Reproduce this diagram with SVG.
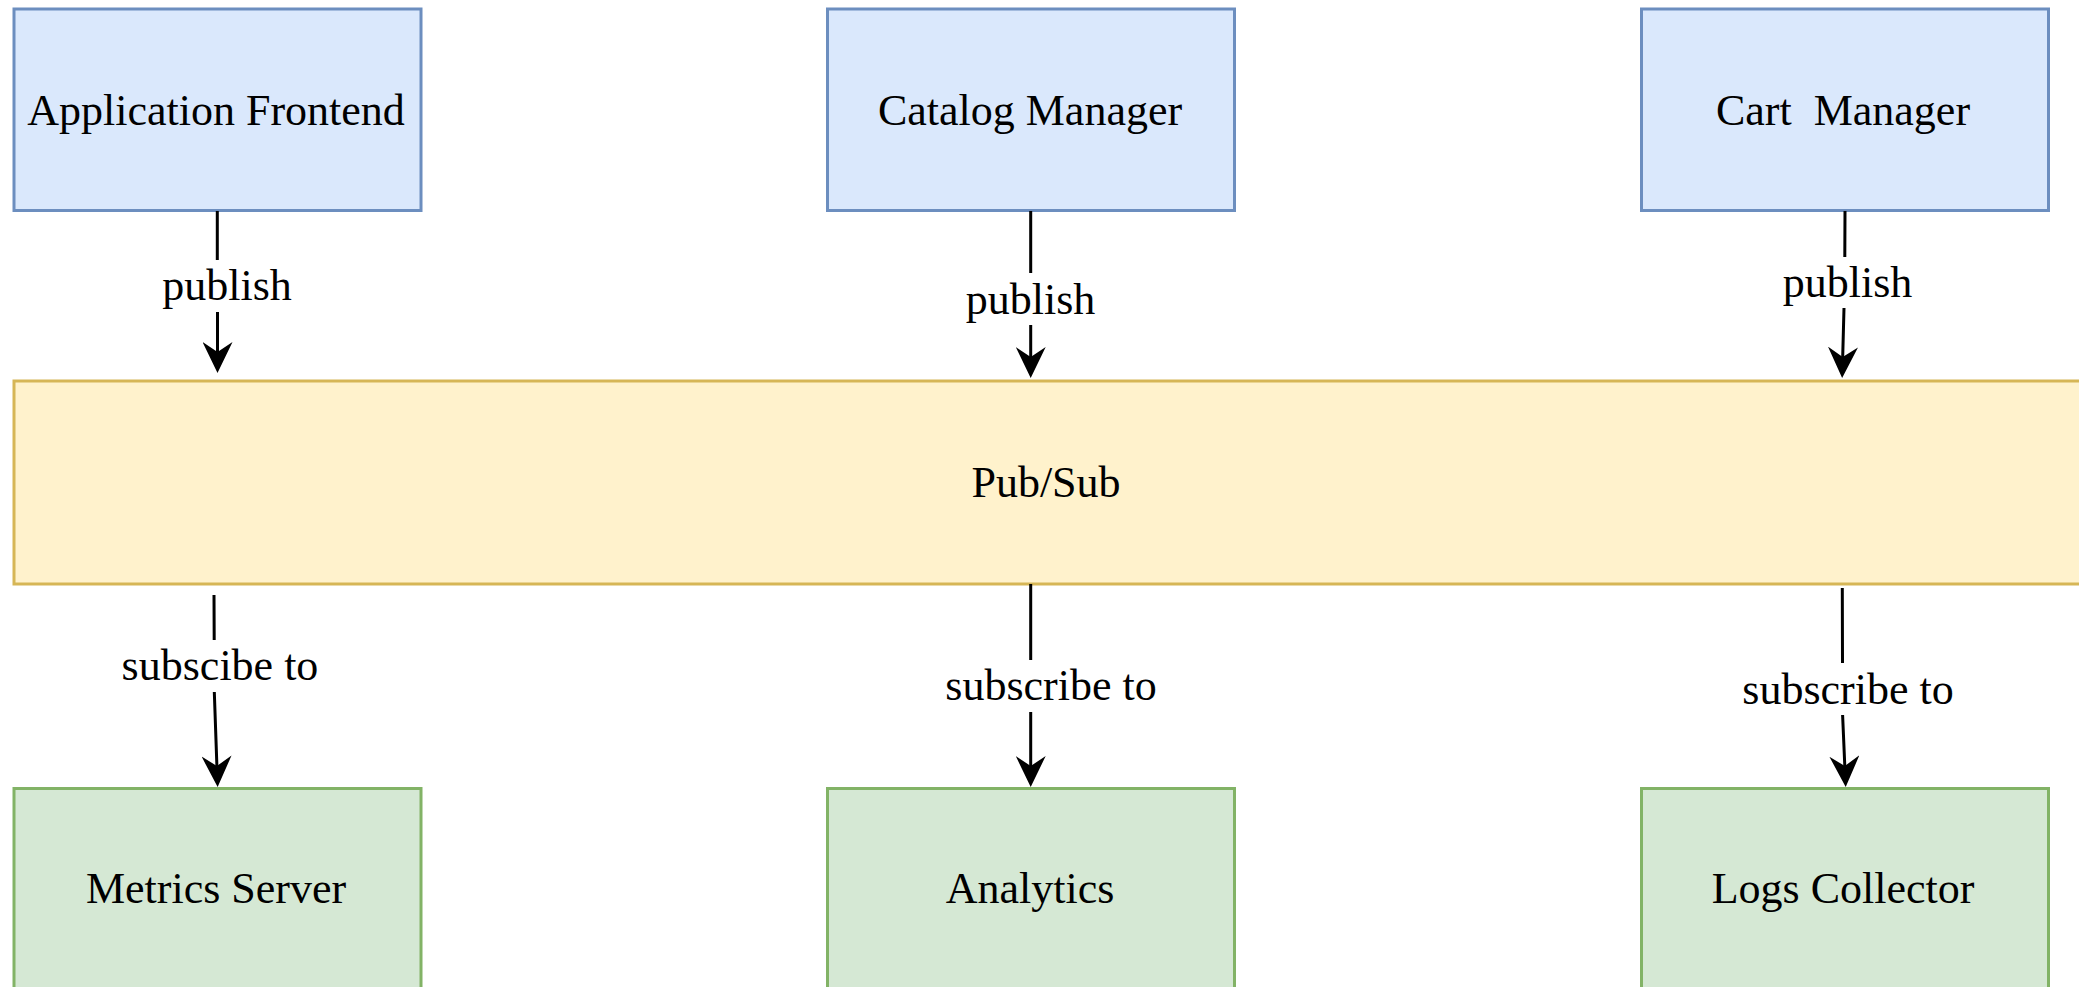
<svg xmlns="http://www.w3.org/2000/svg" width="2079" height="987" viewBox="0 0 2079 987">
  <style>
    .lbl { font-family: "Liberation Serif", "Times New Roman", serif; font-size: 44px; fill: #000; text-anchor: middle; white-space: pre; }
    .blue { fill: #dae8fc; stroke: #6c8ebf; stroke-width: 3; }
    .yellow { fill: #fff2cc; stroke: #d6b656; stroke-width: 3; }
    .green { fill: #d5e8d4; stroke: #82b366; stroke-width: 3; }
    .edge { fill: none; stroke: #000; stroke-width: 3; marker-end: url(#arrow); }
  </style>
  <defs>
    <marker id="arrow" viewBox="0 0 31 30" refX="10" refY="15" markerWidth="31" markerHeight="30" markerUnits="userSpaceOnUse" orient="auto">
      <path d="M0,0 L31,15 L0,30 L10,15 Z" fill="#000"/>
    </marker>
  </defs>
  <rect width="2079" height="987" fill="#fff"/>

  <!-- publishers -->
  <g id="app-frontend">
    <rect class="blue" x="14" y="9" width="407" height="201.5"/>
    <text class="lbl" x="216" y="125">Application Frontend</text>
  </g>
  <g id="catalog-manager">
    <rect class="blue" x="827.5" y="9" width="407" height="201.5"/>
    <text class="lbl" x="1030" y="125">Catalog Manager</text>
  </g>
  <g id="cart-manager">
    <rect class="blue" x="1641.5" y="9" width="407" height="201.5"/>
    <text class="lbl" x="1843" y="125">Cart  Manager</text>
  </g>

  <!-- message bus -->
  <g id="pubsub">
    <rect class="yellow" x="14" y="381" width="2090" height="203"/>
    <text class="lbl" x="1046" y="497">Pub/Sub</text>
  </g>

  <!-- subscribers -->
  <g id="metrics-server">
    <rect class="green" x="14" y="788.5" width="407" height="260"/>
    <text class="lbl" x="216" y="903">Metrics Server</text>
  </g>
  <g id="analytics">
    <rect class="green" x="827.5" y="788.5" width="407" height="260"/>
    <text class="lbl" x="1030" y="903">Analytics</text>
  </g>
  <g id="logs-collector">
    <rect class="green" x="1641.5" y="788.5" width="407" height="260"/>
    <text class="lbl" x="1843" y="903">Logs Collector</text>
  </g>

  <!-- connectors -->
  <g id="connectors">
    <path class="edge" d="M217.3,211 V260 M217.5,312 V352"/>
    <path class="edge" d="M1030.7,211 V273 M1030.7,325 V357"/>
    <path class="edge" d="M1845,211 L1844.8,257 M1844,308 L1842.7,357"/>
    <path class="edge" d="M214,595 L214.2,640 M214.3,692 L216.9,766"/>
    <path class="edge" d="M1030.7,584 V660 M1030.7,712 V766"/>
    <path class="edge" d="M1842.3,588 L1842.5,663 M1842.6,715 L1844.8,766"/>
    <text class="lbl" x="227" y="300">publish</text>
    <text class="lbl" x="1030.5" y="314">publish</text>
    <text class="lbl" x="1847.5" y="297">publish</text>
    <text class="lbl" x="220" y="680">subscibe to</text>
    <text class="lbl" x="1051" y="700">subscribe to</text>
    <text class="lbl" x="1848" y="704">subscribe to</text>
  </g>
</svg>
